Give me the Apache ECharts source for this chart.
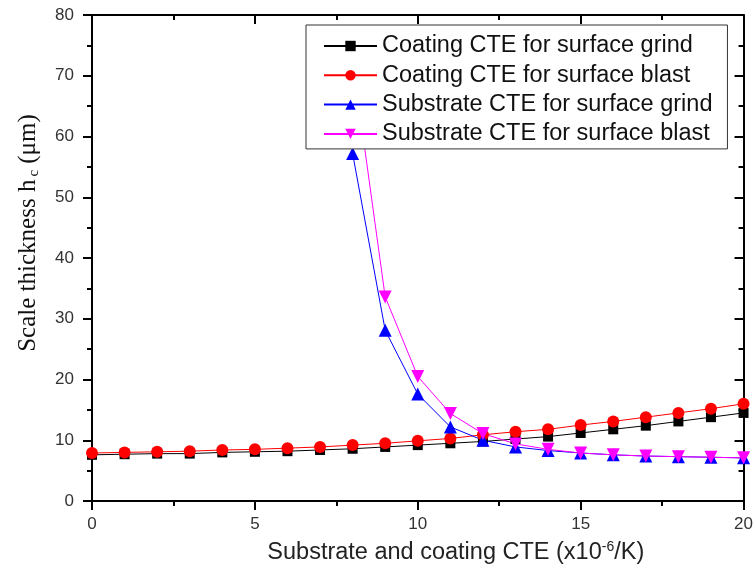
<!DOCTYPE html>
<html>
<head>
<meta charset="utf-8">
<script src="https://cdn.jsdelivr.net/npm/echarts@6/dist/echarts.min.js"></script>
<style>
html,body{margin:0;padding:0;background:#fff;}
#chart{width:756px;height:578px;}
</style>
</head>
<body>
<div id="chart"></div>
<script>
// Data
var cteValues = [0, 1, 2, 3, 4, 5, 6, 7, 8, 9, 10, 11, 12, 13, 14, 15, 16, 17, 18, 19, 20];
var coatingGrind = [7.6, 7.7, 7.8, 7.8, 8.0, 8.1, 8.2, 8.4, 8.6, 8.9, 9.2, 9.5, 9.8, 10.2, 10.6, 11.2, 11.8, 12.4, 13.1, 13.8, 14.5];
var coatingBlast = [7.9, 8.0, 8.1, 8.2, 8.4, 8.5, 8.7, 8.9, 9.2, 9.5, 9.9, 10.3, 10.9, 11.4, 11.8, 12.5, 13.1, 13.8, 14.5, 15.2, 16.0];
var substrateGrind = [null, null, null, null, null, null, null, null, 57.2, 28.1, 17.6, 12.2, 10.0, 8.9, 8.3, 7.9, 7.6, 7.4, 7.3, 7.2, 7.1];
var substrateBlast = [null, null, null, null, null, null, null, null, 72.5, 33.6, 20.5, 14.4, 11.1, 9.4, 8.5, 7.9, 7.6, 7.4, 7.3, 7.2, 7.1];
var seriesNames = ['Coating CTE for surface grind', 'Coating CTE for surface blast', 'Substrate CTE for surface grind', 'Substrate CTE for surface blast'];
var xTicks = {min: 0, max: 20, interval: 5};
var yTicks = {min: 0, max: 80, interval: 10};

function pairs(vals) {
  var out = [];
  for (var i = 0; i < cteValues.length; i++) {
    if (vals[i] !== null) out.push([cteValues[i], vals[i]]);
  }
  return out;
}

var chart = echarts.init(document.getElementById('chart'), null, {renderer: 'canvas'});
var axisLineStyle = {color: '#000', width: 2};
var sans = 'Liberation Sans, Arial, sans-serif';
var serif = 'Liberation Serif, Times New Roman, serif';

var option = {
  backgroundColor: '#fff',
  animation: false,
  grid: {left: 92, top: 15, right: 9, bottom: 77},
  legend: {
    orient: 'vertical',
    left: 306,
    top: 25,
    padding: [9, 15, 3, 17],
    itemWidth: 53,
    itemHeight: 13,
    itemGap: 5.3,
    backgroundColor: '#fff',
    borderColor: '#333',
    borderWidth: 1,
    textStyle: {fontFamily: sans, fontSize: 23.5, color: '#111'},
    data: seriesNames
  },
  xAxis: [
    {
      type: 'value', position: 'bottom',
      min: xTicks.min, max: xTicks.max, interval: xTicks.interval,
      axisLine: {onZero: false, lineStyle: axisLineStyle},
      axisTick: {inside: false, length: 9, lineStyle: axisLineStyle},
      minorTick: {show: true, splitNumber: 2, length: 5, lineStyle: axisLineStyle},
      axisLabel: {color: '#333', fontSize: 17, fontFamily: sans, margin: 15},
      splitLine: {show: false},
      name: '{a|Substrate and coating CTE (x10}{sup|-6}{a|/K)}',
      nameLocation: 'middle',
      nameGap: 39,
      nameTextStyle: {
        padding: [0, 0, 0, 76],
        rich: {
          a: {fontFamily: sans, fontSize: 23.5, color: '#222'},
          sup: {fontFamily: sans, fontSize: 14, color: '#222', padding: [0, 0, 12, 0]}
        }
      }
    },
    {
      type: 'value', position: 'top',
      min: xTicks.min, max: xTicks.max, interval: xTicks.interval,
      axisLine: {onZero: false, lineStyle: axisLineStyle},
      axisTick: {inside: true, length: 9, lineStyle: axisLineStyle},
      minorTick: {show: true, splitNumber: 2, length: 5, lineStyle: axisLineStyle},
      axisLabel: {show: false},
      splitLine: {show: false}
    }
  ],
  yAxis: [
    {
      type: 'value', position: 'left',
      min: yTicks.min, max: yTicks.max, interval: yTicks.interval,
      axisLine: {onZero: false, lineStyle: axisLineStyle},
      axisTick: {inside: false, length: 9, lineStyle: axisLineStyle},
      minorTick: {show: true, splitNumber: 2, length: 5, lineStyle: axisLineStyle},
      axisLabel: {color: '#333', fontSize: 17, fontFamily: sans, margin: 18},
      splitLine: {show: false},
      name: '{a|Scale thickness h}{sub|c}{a| (μm)}',
      nameLocation: 'middle',
      nameGap: 50,
      nameTextStyle: {
        padding: [0, 0, 0, 50],
        rich: {
          a: {fontFamily: serif, fontSize: 25, color: '#111'},
          sub: {fontFamily: serif, fontSize: 15, color: '#111', padding: [12, 0, 0, 3]}
        }
      }
    },
    {
      type: 'value', position: 'right',
      min: yTicks.min, max: yTicks.max, interval: yTicks.interval,
      axisLine: {onZero: false, lineStyle: axisLineStyle},
      axisTick: {inside: true, length: 9, lineStyle: axisLineStyle},
      minorTick: {show: true, splitNumber: 2, length: 5, lineStyle: axisLineStyle},
      axisLabel: {show: false},
      splitLine: {show: false}
    }
  ],
  series: [
    {
      name: seriesNames[0], type: 'line', data: pairs(coatingGrind),
      symbol: 'rect', symbolSize: 10,
      lineStyle: {color: '#000', width: 1}, itemStyle: {color: '#000'}
    },
    {
      name: seriesNames[1], type: 'line', data: pairs(coatingBlast),
      symbol: 'circle', symbolSize: 12,
      lineStyle: {color: '#ff0000', width: 1}, itemStyle: {color: '#ff0000'}
    },
    {
      name: seriesNames[2], type: 'line', data: pairs(substrateGrind),
      symbol: 'triangle', symbolSize: 13,
      lineStyle: {color: '#0000ff', width: 1}, itemStyle: {color: '#0000ff'}
    },
    {
      name: seriesNames[3], type: 'line', data: pairs(substrateBlast),
      symbol: 'triangle', symbolRotate: 180, symbolSize: 13,
      lineStyle: {color: '#ff00ff', width: 1}, itemStyle: {color: '#ff00ff'}
    }
  ]
};
chart.setOption(option);
</script>
</body>
</html>
